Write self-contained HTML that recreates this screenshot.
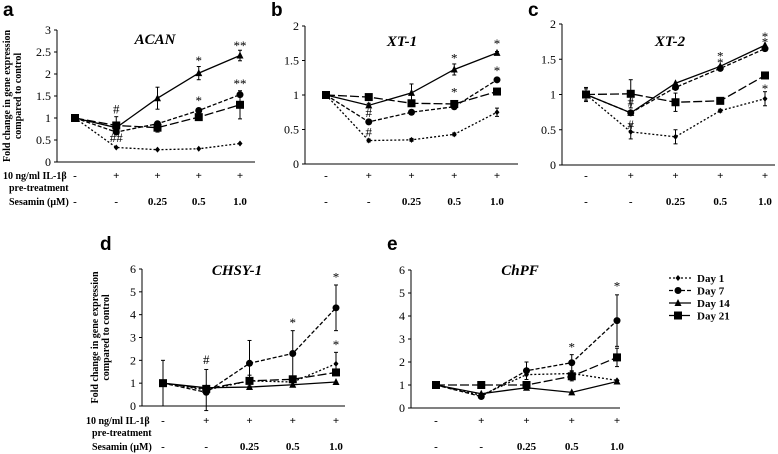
<!DOCTYPE html>
<html><head><meta charset="utf-8"><style>
body{margin:0;background:#fff}
svg{display:block}
text{font-family:"Liberation Serif",serif;fill:#000}
</style></head><body>
<svg id="chart" width="778" height="454"></svg>
<script>
const xCategories=["c0","c1","c2","c3","c4"];
const ilLabels=["-","+","+","+","+"];
const sesLabels=["-","-","0.25","0.5","1.0"];
const seriesNames=["Day 1","Day 7","Day 14","Day 21"];
const acanDay1=[1,0.33,0.28,0.30,0.42], acanDay7=[1,0.68,0.87,1.17,1.53], acanDay14=[1,0.78,1.45,2.02,2.42], acanDay21=[1,0.83,0.78,1.02,1.30];
const acanErr14=[0,0.03,0.25,0.15,0.12], acanErr21=[0,0.2,0.1,0.05,0.32];
const xt1Day1=[1,0.34,0.35,0.43,0.75], xt1Day7=[1,0.61,0.75,0.83,1.22], xt1Day14=[1,0.85,1.03,1.37,1.61], xt1Day21=[1,0.97,0.88,0.87,1.05];
const xt1Err14=[0,0.03,0.13,0.08,0.02], xt1Err1=[0,0.02,0.02,0.02,0.06];
const xt2Day1=[1,0.47,0.40,0.77,0.94], xt2Day7=[1,0.74,1.10,1.37,1.65], xt2Day14=[1,0.74,1.16,1.40,1.70], xt2Day21=[1,1.01,0.89,0.91,1.27];
const xt2Err1=[0.1,0.1,0.1,0.02,0.1], xt2Err21=[0.08,0.2,0.13,0.02,0.02];
const chsyDay1=[1,0.70,1.10,1.05,1.85], chsyDay7=[1,0.60,1.87,2.30,4.30], chsyDay14=[1,0.80,0.83,0.93,1.05], chsyDay21=[1,0.75,1.10,1.17,1.47];
const chsyErr7=[1.0,0.0,1.0,1.0,1.0], chsyErr1=[0,0.9,0.25,0.0,0.5];
const chpfDay1=[1,0.55,1.45,1.50,1.20], chpfDay7=[1,0.50,1.62,1.97,3.80], chpfDay14=[1,0.62,0.88,0.68,1.15], chpfDay21=[1,1.00,1.00,1.38,2.20];
const chpfErr7=[0,0.05,0.38,0.35,1.12], chpfErr21=[0,0,0.1,0.2,0.4];

const NS="http://www.w3.org/2000/svg";
const svg=document.getElementById('chart');
function mk(tag,attrs,parent){const e=document.createElementNS(NS,tag);for(const k in attrs)e.setAttribute(k,attrs[k]);(parent||svg).appendChild(e);return e;}
function txt(s,x,y,attrs,parent){const e=mk('text',Object.assign({x:x,y:y},attrs||{}),parent);e.textContent=s;return e;}
const dashes=["2,2","4,2","none","9,3"];
const markers=["diamond","circle","triangle","square"];

function panel(cfg){
  const g=mk('g',{});
  
  
  const xs=i=>cfg.x0+(cfg.x1-cfg.x0)*i/4;
  const ys=v=>cfg.yb+(cfg.yt-cfg.yb)*v/cfg.ymax;
  const ax=mk('line',{x1:cfg.ax,y1:cfg.yt,x2:cfg.ax,y2:cfg.yb,stroke:'#000','stroke-width':1},g);
  
  const bx=mk('line',{x1:cfg.ax,y1:cfg.yb,x2:cfg.axEnd,y2:cfg.yb,stroke:'#000','stroke-width':1},g);
  
  for(let v=0;v<=cfg.ymax+1e-9;v+=cfg.step){
    const y=ys(v);
    mk('line',{x1:cfg.ax-3,y1:y,x2:cfg.ax,y2:y,stroke:'#000'},g);
    const t=txt(String(Math.round(v*10)/10),cfg.ax-6,y+4,{'font-size':12,'text-anchor':'end'},g);
    
    
  }
  xCategories.forEach((c,i)=>{
    const a=txt(ilLabels[i],xs(i),cfg.row1,{'font-size':11,'font-weight':'bold','text-anchor':'middle'},g);
    
    
    const b=txt(sesLabels[i],xs(i),cfg.row2,{'font-size':11,'font-weight':'bold','text-anchor':'middle'},g);
    
    
  });
  const title=txt(cfg.title,cfg.tx,cfg.ty,{'font-size':15,'font-weight':'bold','font-style':'italic','text-anchor':'middle'},g);
  
  
  const L=txt(cfg.letter,cfg.lx,cfg.ly,{'font-size':19,'font-weight':'bold',style:'font-family:"Liberation Sans",sans-serif'},g);
  
  
  cfg.errs.forEach(([si,arr])=>{
    const vals=cfg.series[si];
    arr.forEach((e,i)=>{ if(e<=0)return;
      const x=xs(i),y1=ys(vals[i]-e),y2=ys(vals[i]+e);
      const l=mk('line',{x1:x,y1:y1,x2:x,y2:y2,stroke:'#000','stroke-width':1},g);
      
      
      mk('line',{x1:x-2,y1:y2,x2:x+2,y2:y2,stroke:'#000'},g);
      mk('line',{x1:x-2,y1:y1,x2:x+2,y2:y1,stroke:'#000'},g);
    });
  });
  cfg.series.forEach((vals,si)=>{
    const pts=vals.map((v,i)=>xs(i)+','+ys(v)).join(' ');
    const pl=mk('polyline',{points:pts,fill:'none',stroke:'#000','stroke-width':1.3,'stroke-dasharray':dashes[si]},g);
    
    
    vals.forEach((v,i)=>{
      const m=marker(markers[si],xs(i),ys(v),g);
      
      
    });
  });
  cfg.ann.forEach(([s,i,v])=>{
    const a=txt(s,xs(i),ys(v),{'font-size':13,'text-anchor':'middle',fill:'#333'},g);
    
    
  });
  if(cfg.ytitle){
    const t=mk('text',{transform:`translate(${cfg.ytx},${(cfg.yt+cfg.yb)/2}) rotate(-90)`,'font-size':10,'font-weight':'bold','text-anchor':'middle'},g);
    
    
    const a=mk('tspan',{x:0,dy:0},t);a.textContent='Fold change in gene expression';
    const b=mk('tspan',{x:0,dy:11},t);b.textContent='compared to control';
    const r1=txt('10 ng/ml IL-1β',cfg.rlx,cfg.row1,{'font-size':10,'font-weight':'bold'},g);
    
    
    const r2=txt('pre-treatment',cfg.rlx+6,cfg.row1+12,{'font-size':10,'font-weight':'bold'},g);
    
    
    const r3=txt('Sesamin (μM)',cfg.rlx+6,cfg.row2,{'font-size':10,'font-weight':'bold'},g);
    
    
  }
}
function marker(type,x,y,g){
  if(type==='circle')return mk('circle',{cx:x,cy:y,r:3.5,fill:'#000'},g);
  if(type==='square')return mk('rect',{x:x-4,y:y-4,width:8,height:8,fill:'#000'},g);
  if(type==='triangle')return mk('polygon',{points:`${x},${y-4} ${x-3.5},${y+3} ${x+3.5},${y+3}`,fill:'#000'},g);
  return mk('polygon',{points:`${x},${y-3} ${x+2.5},${y} ${x},${y+3} ${x-2.5},${y}`,fill:'#000'},g);
}
panel({name:'acan',title:'ACAN',letter:'a',lx:3,ly:16,tx:155,ty:44,ax:57,axEnd:255,x0:75,x1:240,yt:30,yb:162,ymax:3,step:0.5,row1:179,row2:205,
  series:[acanDay1,acanDay7,acanDay14,acanDay21],errs:[[2,acanErr14],[3,acanErr21]],
  ann:[['#',1,1.1],['##',1,0.45],['*',3,2.2],['**',4,2.55],['*',3,1.3],['**',4,1.68]],ytitle:true,ytx:10,rlx:3});
panel({name:'xt1',title:'XT-1',letter:'b',lx:271,ly:16,tx:402,ty:46,ax:305,axEnd:518,x0:326,x1:497,yt:26,yb:164,ymax:2,step:0.5,row1:179,row2:205,
  series:[xt1Day1,xt1Day7,xt1Day14,xt1Day21],errs:[[2,xt1Err14],[0,xt1Err1]],
  ann:[['#',1,0.68],['#',1,0.4],['*',3,1.47],['*',4,1.68],['*',4,1.29],['*',4,1.12],['*',3,0.98]]});
panel({name:'xt2',title:'XT-2',letter:'c',lx:528,ly:16,tx:670,ty:46,ax:562,axEnd:775,x0:586,x1:765,yt:24,yb:165,ymax:2,step:0.5,row1:179,row2:205,
  series:[xt2Day1,xt2Day7,xt2Day14,xt2Day21],errs:[[0,xt2Err1],[3,xt2Err21]],
  ann:[['#',1,0.83],['#',1,0.51],['*',3,1.48],['*',3,1.39],['*',4,1.76],['*',4,1.02],['*',4,1.68]]});
panel({name:'chsy1',title:'CHSY-1',letter:'d',lx:100,ly:250,tx:237,ty:275,ax:142,axEnd:345,x0:163,x1:336,yt:269,yb:406,ymax:6,step:1,row1:424,row2:450,
  series:[chsyDay1,chsyDay7,chsyDay14,chsyDay21],errs:[[1,chsyErr7],[0,chsyErr1]],
  ann:[['#',1,1.85],['*',3,3.45],['*',4,5.45],['*',4,2.5]],ytitle:true,ytx:98,rlx:86});
panel({name:'chpf',title:'ChPF',letter:'e',lx:387,ly:250,tx:520,ty:275,ax:411,axEnd:620,x0:436,x1:617,yt:270,yb:408,ymax:6,step:1,row1:424,row2:450,
  series:[chpfDay1,chpfDay7,chpfDay14,chpfDay21],errs:[[1,chpfErr7],[3,chpfErr21]],
  ann:[['*',3,2.45],['*',4,5.1]]});
const lg=mk('g',{});


seriesNames.forEach((n,i)=>{
  const y=278+12.5*i;
  const e=mk('g',{},lg);
  
  
  mk('line',{x1:669,y1:y,x2:691,y2:y,stroke:'#000','stroke-width':1.3,'stroke-dasharray':dashes[i]},e);
  marker(markers[i],678,y,e);
  txt(n,697,y+4,{'font-size':11,'font-weight':'bold'},e);
});
</script>
</body></html>
